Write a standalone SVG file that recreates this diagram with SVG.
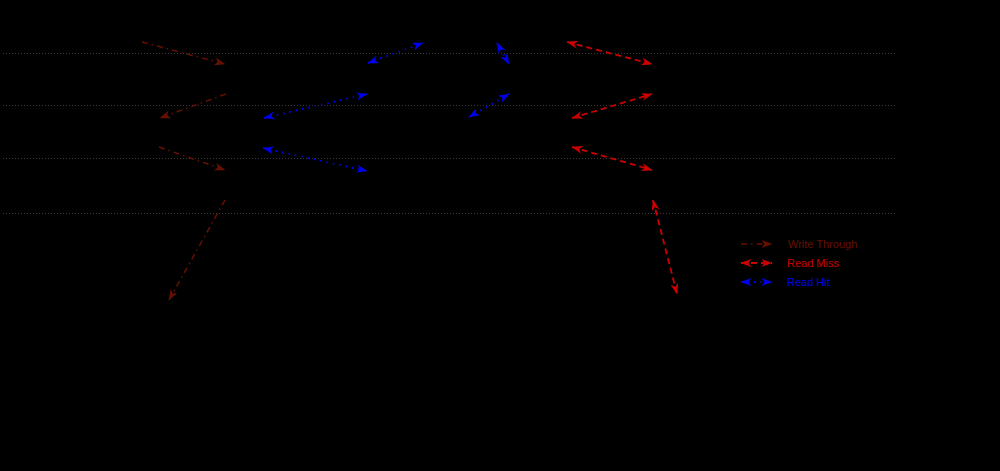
<svg xmlns="http://www.w3.org/2000/svg" width="1000" height="471" viewBox="0 0 1000 471">
<style>
.grid{stroke:#3a3a3a;stroke-width:1;stroke-dasharray:1,2;fill:none}
.wt{stroke:#661100;stroke-width:1.5;stroke-dasharray:6,4,1.5,4;fill:none}
.rm{stroke:#cc0000;stroke-width:1.8;stroke-dasharray:6,4;fill:none}
.rh{stroke:#0000ee;stroke-width:2;stroke-dasharray:1.5,5;fill:none}
.lbl{font-family:"Liberation Sans",Arial,sans-serif;font-size:11px}
</style>
<defs>
<marker id="mwt" viewBox="0 0 11 8" refX="10.5" refY="4" markerWidth="11" markerHeight="8" markerUnits="userSpaceOnUse" orient="auto-start-reverse"><path d="M0,0 L11,4 L0,8 L3,4 z" fill="#661100"/></marker>
<marker id="mrm" viewBox="0 0 11 8" refX="10.5" refY="4" markerWidth="11" markerHeight="8" markerUnits="userSpaceOnUse" orient="auto-start-reverse"><path d="M0,0 L11,4 L0,8 L3,4 z" fill="#cc0000"/></marker>
<marker id="mrh" viewBox="0 0 11 8" refX="10.5" refY="4" markerWidth="11" markerHeight="8" markerUnits="userSpaceOnUse" orient="auto-start-reverse"><path d="M0,0 L11,4 L0,8 L3,4 z" fill="#0000ee"/></marker>
</defs>
<rect x="0" y="0" width="1000" height="471" fill="#000"/>
<g id="gridlines">
<line class="grid" x1="3" y1="53.5" x2="897" y2="53.5"/>
<line class="grid" x1="3" y1="105.5" x2="897" y2="105.5"/>
<line class="grid" x1="3" y1="158.5" x2="897" y2="158.5"/>
<line class="grid" x1="3" y1="213.5" x2="897" y2="213.5"/>
</g>
<g id="connectors">
<line class="wt" x1="142" y1="42" x2="225" y2="64" marker-end="url(#mwt)"/>
<line class="wt" x1="226" y1="94" x2="160" y2="118" marker-end="url(#mwt)"/>
<line class="wt" x1="159" y1="147" x2="225" y2="170" marker-end="url(#mwt)"/>
<line class="wt" x1="225" y1="200" x2="169" y2="300" marker-end="url(#mwt)"/>
<line class="rh" x1="264" y1="118" x2="367" y2="94" marker-start="url(#mrh)" marker-end="url(#mrh)"/>
<line class="rh" x1="263" y1="148" x2="367" y2="171" marker-start="url(#mrh)" marker-end="url(#mrh)"/>
<line class="rh" x1="368" y1="63" x2="423" y2="43" marker-start="url(#mrh)" marker-end="url(#mrh)"/>
<line class="rh" x1="497" y1="43" x2="509" y2="64" marker-start="url(#mrh)" marker-end="url(#mrh)"/>
<line class="rh" x1="469" y1="117" x2="509" y2="94" marker-start="url(#mrh)" marker-end="url(#mrh)"/>
<line class="rm" x1="567" y1="42" x2="652" y2="64" marker-start="url(#mrm)" marker-end="url(#mrm)"/>
<line class="rm" x1="572" y1="118" x2="652" y2="94" marker-start="url(#mrm)" marker-end="url(#mrm)"/>
<line class="rm" x1="572" y1="147" x2="652" y2="170" marker-start="url(#mrm)" marker-end="url(#mrm)"/>
<line class="rm" x1="653" y1="200" x2="677" y2="294" marker-start="url(#mrm)" marker-end="url(#mrm)"/>
</g>
<g id="legend">
<line class="wt" x1="741" y1="244" x2="772" y2="244" marker-end="url(#mwt)"/>
<text class="lbl" x="788" y="248" fill="#661100">Write Through</text>
<line class="rm" x1="741" y1="263" x2="772" y2="263" marker-start="url(#mrm)" marker-end="url(#mrm)"/>
<text class="lbl" x="787" y="267" fill="#cc0000">Read Miss</text>
<line class="rh" x1="741" y1="282" x2="772" y2="282" marker-start="url(#mrh)" marker-end="url(#mrh)"/>
<text class="lbl" x="787" y="286" fill="#0000ee">Read Hit</text>
</g>
</svg>
